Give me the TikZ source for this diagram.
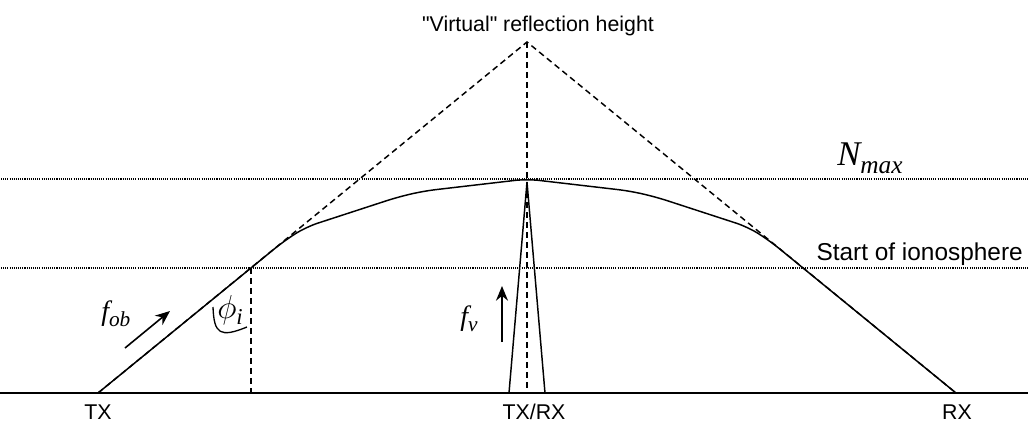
\documentclass[tikz,border=0pt]{standalone}
\usepackage{fontspec}
\setmainfont{Liberation Sans}[Ligatures=TeXOff]
\newfontfamily\tms{Liberation Serif}
\usetikzlibrary{arrows.meta}
\tikzset{
  lbl/.style={font=\fontsize{16}{19}\selectfont, inner sep=0pt},
  mth/.style={font=\fontsize{21}{24}\selectfont\tms\itshape, inner sep=0pt},
  ray/.style={line width=1.1pt},
  virt/.style={line width=1.1pt, dash pattern=on 4.5pt off 3pt},
  lvl/.style={line width=1pt, dash pattern=on 0.8pt off 0.8pt},
  flow/.style={line width=1.2pt, -{Stealth[length=11pt,width=9pt]}}
}
\begin{document}
\begin{tikzpicture}[x=0.75pt,y=-0.75pt]
\useasboundingbox (0,0) rectangle (1033,426);
% key points
\coordinate (tx) at (98,393);
\coordinate (rx) at (956,393);
\coordinate (trx) at (527,393);
\coordinate (apex) at (527,42);
\coordinate (top) at (527,179);
\coordinate (spl) at (509,393);
\coordinate (spr) at (545,393);
\coordinate (spt) at (527,182);
\coordinate (ion) at (250.8,268);
\coordinate (iong) at (250.8,393);
\coordinate (gl) at (0,393);
\coordinate (gr) at (1028,393);
\coordinate (nl) at (1,179);
\coordinate (nr) at (1028,179);
\coordinate (sl) at (1,268);
\coordinate (sr) at (1028,268);
% ground
\draw[line width=1.3pt] (gl) -- (gr);
% level lines
\draw[lvl] (nl) -- (nr);
\draw[lvl] (sl) -- (sr);
% virtual path
\draw[virt] (tx) -- (apex) -- (rx);
\draw[virt] (apex) -- (trx);
\draw[virt] (ion) -- (iong);
% oblique ray
\draw[ray, rounded corners=9pt] (tx) -- (284,241) -- (306,227) -- (398,197) -- (424,191) -- (top)
  -- (630,191) -- (656,197) -- (748,227) -- (770,241) -- (rx);
% vertical ray
\draw[ray] (spl) -- (spt) -- (spr);
% arrows
\coordinate (fob0) at (125,348);
\coordinate (fob1) at (170,311);
\draw[flow] (fob0) -- (fob1);
\coordinate (fv0) at (502,342);
\coordinate (fv1) at (502,286);
\draw[flow] (fv0) -- (fv1);
% angle mark
\coordinate (ph0) at (213,307);
\coordinate (ph1) at (247,327);
\draw[line width=1pt] (ph0) .. controls (214,334) and (220,338) .. (ph1);
% labels
\node[lbl, anchor=base] (vrh) at (538,31) {"Virtual" reflection height};
\node[lbl, font=\fontsize{18.3}{21}\selectfont, anchor=base east] (soi) at (1023,260) {Start of ionosphere};
\node[lbl, anchor=base] (ltx) at (98,419) {TX};
\node[lbl, anchor=base] (ltrx) at (534,419) {TX/RX};
\node[lbl, anchor=base] (lrx) at (957,419) {RX};
\node[mth, font=\fontsize{26}{28}\selectfont\tms\itshape, anchor=base west] (nmax) at (837,165) {N\raisebox{-6pt}{\fontsize{19}{20}\selectfont max}};
\node[mth, anchor=base west] (fob) at (101,320) {f\raisebox{-5pt}{\fontsize{16}{17}\selectfont ob}};
\node[mth, anchor=base west] (fv) at (460,325) {f\raisebox{-5pt}{\fontsize{16}{17}\selectfont v}};
\node[inner sep=0pt, anchor=base west, font=\fontsize{26}{28}\selectfont] (phi) at (217,318) {$\phi$\raisebox{-5pt}{\fontsize{17}{18}\selectfont\tms\itshape i}};
\end{tikzpicture}
\end{document}
